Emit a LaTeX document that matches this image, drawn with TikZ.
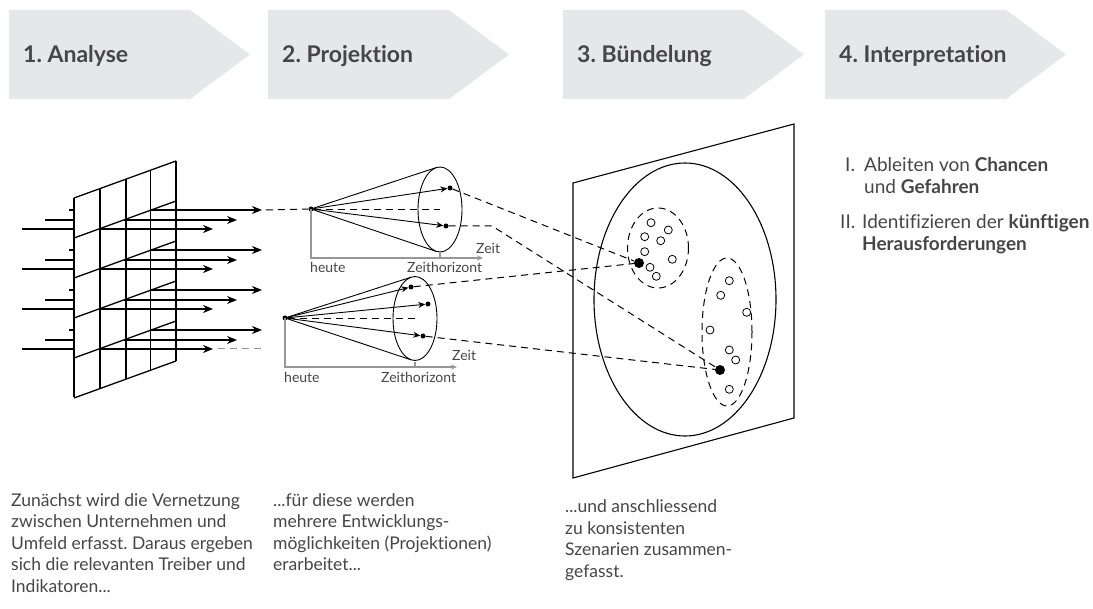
\documentclass[tikz,border=0pt]{standalone}
\usepackage{fontspec}
\setmainfont{Lato}[Ligatures={NoCommon,NoRare,NoDiscretionary}]
\usepackage{tikz}
\usetikzlibrary{arrows.meta, calc, positioning}
\definecolor{chevgray}{RGB}{230,231,232}
\definecolor{txtgray}{RGB}{70,70,72}
\definecolor{axisgray}{RGB}{150,150,150}
\frenchspacing

\begin{document}
\begin{tikzpicture}[x=1pt,y=-1pt,
	gridline/.style={line width=1.3pt},
	fineline/.style={line width=0.9pt},
	arr/.style={-{Stealth[length=10pt,width=8pt]}},
	smallarr/.style={-{Stealth[length=7pt,width=6pt]}},
	dashline/.style={line width=1pt,dash pattern=on 7pt off 5pt},
	timeaxis/.style={axisgray,line width=1.2pt},
	dot/.style={circle,fill=black,inner sep=0pt,minimum size=5pt},
	bigdot/.style={circle,fill=black,inner sep=0pt,minimum size=10pt},
	odot/.style={circle,draw=black,line width=0.8pt,fill=white,inner sep=0pt,minimum size=8pt},
	head/.style={anchor=base west,font=\fontsize{23}{26}\selectfont\bfseries,text=txtgray,inner sep=0pt},
	body/.style={anchor=base west,font=\fontsize{17.5}{21.5}\selectfont,text=txtgray,inner sep=0pt},
	note/.style={anchor=base west,font=\fontsize{19}{22}\selectfont,text=txtgray,inner sep=0pt},
	axlabel/.style={anchor=base west,font=\fontsize{14}{16}\selectfont,text=txtgray,inner sep=0pt}
]
\useasboundingbox (0,0) rectangle (1093,609);

% Kopfzeile
\foreach \xl/\hname/\htxt in {9/h1/{1. Analyse},268/h2/{2. Projektion},563/h3/{3. Bündelung},825/h4/{4. Interpretation}}{
	\fill[chevgray] (\xl,10) -- ++(181,0) -- ++(60,44.5) -- ++(-60,44.5) -- ++(-181,0) -- cycle;
	\node[head] (\hname) at (\xl+14,63) {\htxt};
}

% 1. Analyse: Raster
\coordinate (G0) at (74,198);
\coordinate (G1) at (176,161);
\coordinate (G2) at (176,361);
\coordinate (G3) at (74,397);
\foreach \k in {0,...,5}{\draw[gridline] (74,198+40*\k) -- (176,161+40*\k);}
\foreach \t in {0,0.255,0.51,0.75,1}{\draw[gridline] ($(G0)!\t!(G1)$) -- ($(G3)!\t!(G2)$);}
\foreach \k in {0,...,3}{
	\foreach \dy/\xs/\xe in {12/69/262,22/45/237,31/22/213}{
		\pgfmathsetmacro\yy{198+40*\k+\dy}
		\pgfmathsetmacro\xc{74+(40-\dy)*102/37}
		\draw[gridline] (\xs,\yy) -- (74,\yy);
		\draw[gridline,arr] (\xc,\yy) -- (\xe,\yy);
	}
}

% 2. Projektion: oberer Kegel
\node[dot] (A1) at (311,209) {};
\draw[fineline] (440,209.5) ellipse [x radius=22pt, y radius=42.5pt];
\coordinate (A1o) at (436.2,167.6);
\coordinate (A1u) at (436.2,251.4);
\coordinate (c1) at (440,209);
\node[dot] (t1) at (450,188) {};
\node[dot] (t2) at (446,226) {};
\draw[fineline] (A1o) -- (A1.center) -- (A1u);
\draw[fineline,smallarr] (A1) -- (t1);
\draw[fineline,smallarr] (A1) -- (t2);
\draw[fineline,dash pattern=on 7pt off 5pt] (A1) -- (c1);
\draw[timeaxis,-{Stealth[length=6pt,width=5pt]}] (A1.center) |- (483,258);
\draw[timeaxis] (440,258) -- (440,253);
\node[axlabel] (zeit1) at (476,254) {Zeit};
\node[axlabel] (heute1) at (310,273) {heute};
\node[axlabel] (hor1) at (407,273) {Zeithorizont};

% unterer Kegel
\node[dot] (A2) at (285,318) {};
\draw[fineline] (415,318.5) ellipse [x radius=22pt, y radius=42pt];
\coordinate (A2o) at (411.3,277.1);
\coordinate (A2u) at (411.3,359.9);
\coordinate (c2) at (416,318);
\node[dot] (b1) at (411,287) {};
\node[dot] (b2) at (428,304) {};
\node[dot] (b3) at (423,336) {};
\draw[fineline] (A2o) -- (A2.center) -- (A2u);
\draw[fineline,smallarr] (A2) -- (b1);
\draw[fineline,smallarr] (A2) -- (b2);
\draw[fineline,smallarr] (A2) -- (b3);
\draw[fineline,dash pattern=on 7pt off 5pt] (A2) -- (c2);
\draw[timeaxis,-{Stealth[length=6pt,width=5pt]}] (A2.center) |- (457,367);
\draw[timeaxis] (415,367) -- (415,362);
\node[axlabel] (zeit2) at (452,361) {Zeit};
\node[axlabel] (heute2) at (284,383) {heute};
\node[axlabel] (hor2) at (381,383) {Zeithorizont};

% Verbindungen
\coordinate (g1) at (266,210);
\draw[dashline] (g1) -- (A1);
\coordinate (g4s) at (218,349);
\coordinate (g4e) at (266,349);
\draw[dashline,axisgray] (g4s) -- (g4e);

% 3. Buendelung
\draw[line width=1.1pt] (573,183) -- (794,124) -- (794,418) -- (573,478) -- cycle;
\draw[line width=1.1pt] (685,299.5) ellipse [x radius=91pt, y radius=136.5pt];
\draw[dashline] (658,248) ellipse [x radius=30.5pt, y radius=40pt];
\draw[dashline] (727,332) ellipse [x radius=25pt, y radius=74pt];
\foreach \px/\py in {651/222.7,668.3/230,644.7/236.7,660.7/240.7,644.7/251.7,672.3/259.3,650/267.3,656.3/276.3,
	729.3/280.7,720.7/295.3,746.7/312.3,710/330,729.3/350,735.7/360,729.3/389.3}{
	\node[odot] at (\px,\py) {};
}
\node[bigdot] (sA) at (639,263) {};
\node[bigdot] (sB) at (720,370) {};
\coordinate (t2k) at (492,226);
\draw[dashline] (t1) -- (sA);
\draw[dashline] (t2) -- (t2k) -- (sB);
\draw[dashline] (b1) -- (sA);
\draw[dashline] (b3) -- (sB);

% 4. Interpretation
\node[note] (r1n) at (845,172) {I.};
\node[note] (r1) at (864,172) {\parbox[t]{230pt}{Ableiten von \textbf{Chancen}\\und \textbf{Gefahren}}};
\node[note] (r2n) at (840,229) {II.};
\node[note] (r2) at (862,229) {\parbox[t]{240pt}{Identifizieren der \textbf{künftigen}\\\textbf{Herausforderungen}}};

% Texte unten
\node[body] (d1) at (11,506.5) {\parbox[t]{260pt}{\raggedright Zunächst wird die Vernetzung\\zwischen Unternehmen und\\Umfeld erfasst. Daraus ergeben\\sich die relevanten Treiber und\\Indikatoren...}};
\node[body] (d2) at (273,506.5) {\parbox[t]{260pt}{\raggedright ...für diese werden\\mehrere Entwicklungs-\\möglichkeiten (Projektionen)\\erarbeitet...}};
\node[body] (d3) at (565,513) {\parbox[t]{260pt}{\raggedright ...und anschliessend\\zu konsistenten\\Szenarien zusammen-\\gefasst.}};
\end{tikzpicture}
\end{document}
